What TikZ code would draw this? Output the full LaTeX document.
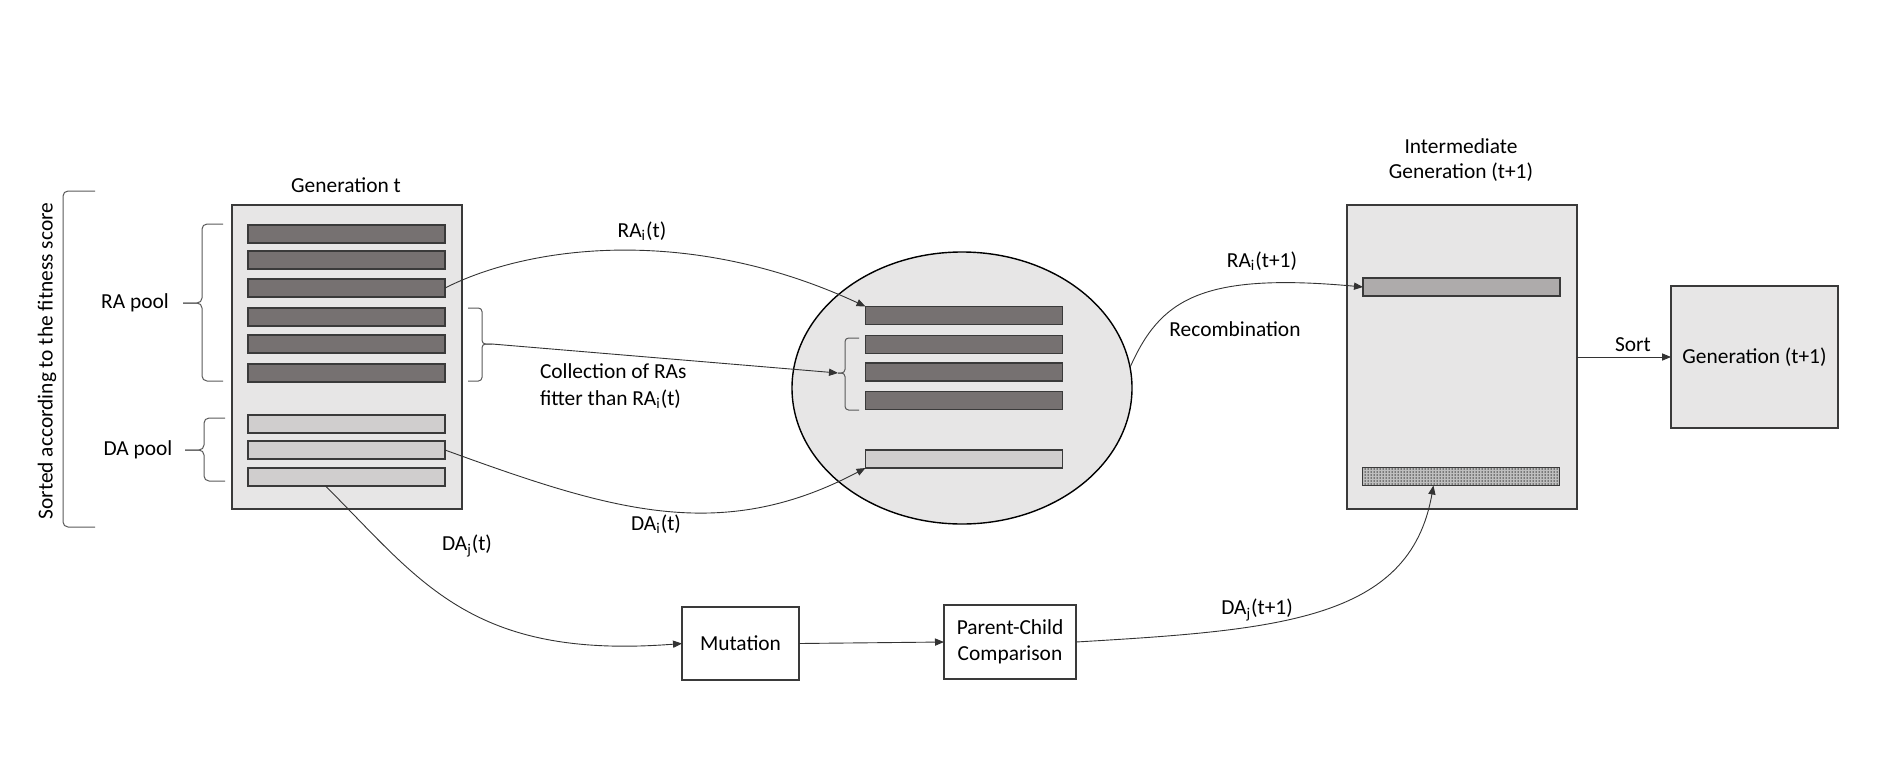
\documentclass[tikz,border=0pt]{standalone}
\usepackage{fontspec}
\setmainfont{Carlito}
\usetikzlibrary{arrows.meta,shapes.geometric,calc,patterns.meta}

\definecolor{panel}{HTML}{E7E6E6}
\definecolor{darkbar}{HTML}{767171}
\definecolor{lightbar}{HTML}{D0CECE}
\definecolor{midbar}{HTML}{AEABAB}
\definecolor{edge}{HTML}{3A3A3A}

\begin{document}
\begin{tikzpicture}[x=0.5pt,y=-0.5pt,
  every node/.style={font=\fontsize{10.7}{12.8}\selectfont, inner sep=0pt, outer sep=0pt},
  panelbox/.style={draw=edge, line width=0.8pt, fill=panel, minimum width=115pt, minimum height=152pt},
  barbase/.style={draw=edge, line width=0.75pt, minimum width=98.5pt, minimum height=9pt},
  rabar/.style={barbase, fill=darkbar},
  dabar/.style={barbase, fill=lightbar},
  procbox/.style={draw=edge, line width=0.8pt, fill=white, align=center},
  link/.style={draw=black!80, line width=0.45pt},
  arr/.style={link, -{Triangle[length=4.5pt,width=3.6pt]}},
  bracket/.style={draw=black!65, line width=0.5pt, rounded corners=2.5pt},
  smallbracket/.style={bracket, rounded corners=1.8pt},
]
\useasboundingbox (0,0) rectangle (1890,766);

% ---- Generation t ----
\node[panelbox] (gent) at (347,357) {};
\node (gentlab) at (346,185) {Generation t};
\foreach \n/\y in {1/234,2/260,3/288,4/317,5/344,6/373}
  \node[rabar] (ra\n) at (346.5,\y) {};
\foreach \n/\y in {1/424,2/450,3/477}
  \node[dabar] (da\n) at (346.5,\y) {};

% pool braces and the overall sorting bracket
\draw[bracket] (223,224) -- (202,224) -- (202,303) -- (183,303);
\draw[bracket] (183,303) -- (202,303) -- (202,381) -- (223,381);
\draw[bracket] (225,418) -- (204,418) -- (204,450) -- (185,450);
\draw[bracket] (185,450) -- (204,450) -- (204,481) -- (225,481);
\draw[bracket] (95,191) -- (63,191) -- (63,527) -- (95,527);
\node (lrapool) at (135,303) {RA pool};
\node (ldapool) at (138,450) {DA pool};
\node[rotate=90] (lsorted) at (47,361) {Sorted according to the fitness score};

% brace over the fitter RAs
\draw[smallbracket] (468,308) -- (482,308) -- (482,344) -- (492,344);
\draw[smallbracket] (492,344) -- (482,344) -- (482,381) -- (468,381);
\coordinate (ctip) at (492,344);

% ---- mating pool ----
\node[ellipse, draw=black, line width=0.7pt, fill=panel, minimum width=170pt, minimum height=136pt] (pool) at (962,388) {};
\node[rabar] (ea) at (964,315.5) {};
\node[rabar] (eb) at (964,344.5) {};
\node[rabar] (ec) at (964,372) {};
\node[rabar] (ed) at (964,400.5) {};
\node[dabar] (ee) at (964,459) {};
\draw[smallbracket] (859,338) -- (845,338) -- (845,373) -- (838,373);
\draw[smallbracket] (838,373) -- (845,373) -- (845,410) -- (859,410);
\coordinate (etip) at (838,373);

% ---- intermediate generation ----
\node[panelbox] (inter) at (1462,357) {};
\node[align=center, font=\fontsize{10.7}{12.2}\selectfont] (interlab) at (1461,160) {Intermediate\\Generation (t+1)};
\node[barbase, fill=midbar] (ib1) at (1461.5,287) {};
\node[barbase, fill=black!25, postaction={pattern={Dots[distance=1.5pt,radius=0.38pt]}, pattern color=black!80}] (ib2) at (1461,476.5) {};

% ---- next generation ----
\node[draw=edge, line width=0.8pt, fill=panel, minimum width=83.5pt, minimum height=71pt] (gen1) at (1754.5,357) {Generation (t+1)};

% ---- DA processing ----
\node[procbox, minimum width=58.5pt, minimum height=36.5pt] (mut) at (740.5,643.5) {Mutation};
\node[procbox, minimum width=66pt, minimum height=37pt, font=\fontsize{10.7}{13}\selectfont] (pcc) at (1010,642) {Parent-Child\\Comparison};

% ---- labels ----
\node (lra) at (642,231) {RA\textsubscript{i}(t)};
\node[anchor=west, align=left, font=\fontsize{10.7}{13.4}\selectfont] (lcol) at (540,386.5) {Collection of RAs\\fitter than RA\textsubscript{i}(t)};
\node (ldai) at (656,524) {DA\textsubscript{i}(t)};
\node (ldaj) at (467,546) {DA\textsubscript{j}(t)};
\node (ldaj1) at (1257,610) {DA\textsubscript{j}(t+1)};
\node (lrai1) at (1262,261) {RA\textsubscript{i}(t+1)};
\node (lrec) at (1235,329) {Recombination};
\node (lsort) at (1633,345) {Sort};

% ---- connectors ----
\draw[arr] (ra3.east) .. controls (530,245) and (690,225) .. (ea.north west);
\draw[arr] (ctip) -- (etip);
\draw[arr] (da2.east) .. controls (610,510) and (720,545) .. (ee.south west);
\draw[arr] ($(da3.south)+(-21,0)$) .. controls (420,580) and (470,660) .. (mut.west);
\draw[arr] (mut.east) -- (pcc.west);
\draw[arr] (pcc.east) .. controls (1280,630) and (1410,620) .. ($(ib2.south west)!0.36!(ib2.south east)$);
\draw[arr] (pool.7) .. controls (1160,300) and (1200,272) .. (ib1.west);
\draw[arr] (inter.east) -- (gen1.west);
\end{tikzpicture}
\end{document}
